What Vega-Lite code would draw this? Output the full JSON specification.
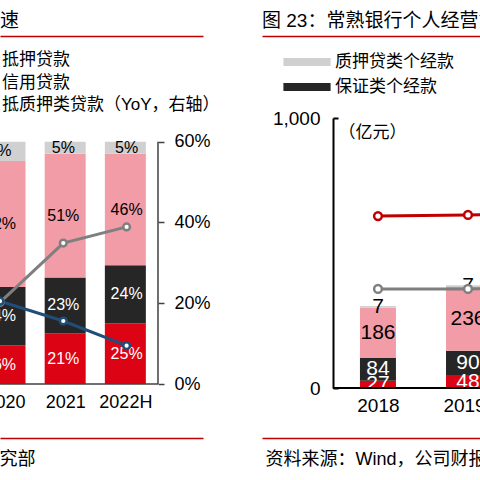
{
  "$schema": "https://vega.github.io/schema/vega-lite/v6.json",
  "autosize": {"type": "none"},
  "padding": {"left": 0, "top": 118, "right": 480, "bottom": 362},
  "bounds": "flush",
  "spacing": 59,
  "resolve": {"scale": {"color": "independent"}, "legend": {"color": "independent"}},
  "datasets": {
    "shareBars": [
      {"year": 2020, "series": "信用贷款", "k": 1, "share": 0.16},
      {"year": 2020, "series": "保证贷款", "k": 2, "share": 0.24},
      {"year": 2020, "series": "抵押贷款", "k": 3, "share": 0.52},
      {"year": 2020, "series": "质押贷款", "k": 4, "share": 0.08},
      {"year": 2021, "series": "信用贷款", "k": 1, "share": 0.21},
      {"year": 2021, "series": "保证贷款", "k": 2, "share": 0.23},
      {"year": 2021, "series": "抵押贷款", "k": 3, "share": 0.51},
      {"year": 2021, "series": "质押贷款", "k": 4, "share": 0.05},
      {"year": 2022, "series": "信用贷款", "k": 1, "share": 0.25},
      {"year": 2022, "series": "保证贷款", "k": 2, "share": 0.24},
      {"year": 2022, "series": "抵押贷款", "k": 3, "share": 0.46},
      {"year": 2022, "series": "质押贷款", "k": 4, "share": 0.05}
    ],
    "shareLines": [
      {"year": 2020, "series": "抵质押类贷款（YoY，右轴）", "yoy": 0.202},
      {"year": 2021, "series": "抵质押类贷款（YoY，右轴）", "yoy": 0.349},
      {"year": 2022, "series": "抵质押类贷款（YoY，右轴）", "yoy": 0.389},
      {"year": 2020, "series": "信用保证类贷款（YoY，右轴）", "yoy": 0.205},
      {"year": 2021, "series": "信用保证类贷款（YoY，右轴）", "yoy": 0.156},
      {"year": 2022, "series": "信用保证类贷款（YoY，右轴）", "yoy": 0.095}
    ],
    "loanBars": [
      {"year": 2018, "series": "信用类个经款", "k": 1, "amt": 27},
      {"year": 2018, "series": "保证类个经款", "k": 2, "amt": 84},
      {"year": 2018, "series": "抵押类个经款", "k": 3, "amt": 186},
      {"year": 2018, "series": "质押贷类个经款", "k": 4, "amt": 7},
      {"year": 2019, "series": "信用类个经款", "k": 1, "amt": 48},
      {"year": 2019, "series": "保证类个经款", "k": 2, "amt": 90},
      {"year": 2019, "series": "抵押类个经款", "k": 3, "amt": 236},
      {"year": 2019, "series": "质押贷类个经款", "k": 4, "amt": 7}
    ],
    "loanLines": [
      {"year": 2018, "series": "个经款增速（右轴）", "v": 0.637},
      {"year": 2019, "series": "个经款增速（右轴）", "v": 0.641},
      {"year": 2020, "series": "个经款增速（右轴）", "v": 0.645},
      {"year": 2018, "series": "个经款占比（右轴）", "v": 0.367},
      {"year": 2019, "series": "个经款占比（右轴）", "v": 0.367},
      {"year": 2020, "series": "个经款占比（右轴）", "v": 0.37}
    ]
  },
  "hconcat": [
    {
      "width": 203,
      "height": 266,
      "title": {"text": "速", "fontSize": 19, "offset": 5},
      "layer": [
        {
          "data": {"name": "shareBars"},
          "mark": {"type": "bar", "size": 41, "clip": true},
          "encoding": {
            "x": {
              "field": "year", "type": "quantitative",
              "scale": {"domain": [2020, 2023.207]},
              "axis": {"orient": "bottom", "values": [2020, 2021, 2022], "format": "d",
                "labelExpr": "datum.value == 2022 ? '2022H' : datum.label",
                "labelFontSize": 18, "labelPadding": 9, "domain": false, "ticks": false,
                "labelFlush": false, "labelOverlap": false, "title": null}
            },
            "y": {"field": "share", "type": "quantitative", "stack": "zero", "scale": {"domain": [0, 1.098]}, "axis": null},
            "color": {
              "field": "series", "type": "nominal",
              "scale": {
                "domain": ["信用贷款", "保证贷款", "抵押贷款", "质押贷款", "抵质押类贷款（YoY，右轴）", "信用保证类贷款（YoY，右轴）"],
                "range": ["#dc0414", "#262626", "#f19ca7", "#d0d0d0", "#7f7f7f", "#1f4e79"]
              },
              "legend": {
                "values": ["抵押贷款", "信用贷款", "抵质押类贷款（YoY，右轴）"],
                "orient": "none", "legendX": -19, "legendY": -66.5, "title": null,
                "symbolType": "square", "symbolSize": 100, "labelFontSize": 17,
                "labelOffset": 4, "rowPadding": 4.5, "padding": 0, "labelLimit": 400
              }
            },
            "order": {"field": "k", "type": "quantitative"}
          }
        },
        {
          "data": {"name": "shareBars"},
          "mark": {"type": "text", "clip": true, "fontSize": 16},
          "encoding": {
            "x": {"field": "year", "type": "quantitative", "scale": {"domain": [2020, 2023.207]}, "axis": null},
            "y": {"field": "share", "type": "quantitative", "stack": "zero", "bandPosition": 0.5, "scale": {"domain": [0, 1.098]}, "axis": null},
            "detail": {"field": "series", "type": "nominal"},
            "order": {"field": "k", "type": "quantitative"},
            "text": {"field": "share", "type": "quantitative", "format": ".0%"},
            "color": {"condition": {"test": "datum.k <= 2", "value": "white"}, "value": "black"}
          }
        },
        {
          "data": {"values": [{"a": 1}]},
          "mark": {"type": "rule", "color": "#404040", "strokeWidth": 1.5},
          "encoding": {
            "x": {"datum": 2019, "type": "quantitative", "scale": {"domain": [2020, 2023.207]}, "axis": null},
            "x2": {"datum": 2022.496},
            "y": {"datum": 0, "type": "quantitative", "scale": {"domain": [0, 1.098]}, "axis": null}
          }
        },
        {
          "data": {"name": "shareLines"},
          "mark": {"type": "line", "strokeWidth": 3, "clip": true},
          "encoding": {
            "x": {
              "field": "year", "type": "quantitative",
              "scale": {"domain": [2020, 2023.207]},
              "axis": {"orient": "top", "offset": 82, "domainColor": "#c00000", "domainWidth": 1.5,
                "ticks": false, "labels": false, "title": null}
            },
            "y": {
              "field": "yoy", "type": "quantitative",
              "scale": {"domain": [0, 0.6587]},
              "axis": {"orient": "right", "offset": -45, "values": [0, 0.2, 0.4, 0.6], "format": ".0%",
                "title": null, "domain": false, "tickSize": 6, "tickColor": "#404040", "tickWidth": 1.5,
                "labelFontSize": 18, "labelPadding": 10}
            },
            "color": {"field": "series", "type": "nominal"}
          }
        },
        {
          "data": {"name": "shareLines"},
          "mark": {"type": "point", "filled": false, "fill": "white", "strokeWidth": 2.5, "size": 45, "opacity": 1, "clip": true},
          "encoding": {
            "x": {"field": "year", "type": "quantitative", "scale": {"domain": [2020, 2023.207]}, "axis": null},
            "y": {"field": "yoy", "type": "quantitative", "scale": {"domain": [0, 0.6587]}, "axis": null},
            "color": {"field": "series", "type": "nominal"}
          }
        },
        {
          "data": {"values": [{"a": 1}]},
          "mark": {"type": "rule", "color": "#404040", "strokeWidth": 1.5},
          "encoding": {
            "x": {"datum": 2022.496, "type": "quantitative", "scale": {"domain": [2020, 2023.207]}, "axis": null},
            "y": {"datum": 0, "type": "quantitative", "scale": {"domain": [0, 0.6587]}, "axis": null},
            "y2": {"datum": 0.6}
          }
        },
        {
          "data": {"values": [{"a": 1}]},
          "mark": {"type": "rule", "opacity": 0},
          "encoding": {
            "x": {
              "datum": 2021, "type": "quantitative",
              "scale": {"domain": [2020, 2023.207]},
              "axis": {"orient": "bottom", "offset": 54, "domainColor": "#c00000", "domainWidth": 1.5,
                "ticks": false, "labels": false, "title": "研究部", "titleAnchor": "start",
                "titleAlign": "right", "titleX": 35, "titleFontSize": 18, "titlePadding": 12}
            }
          }
        }
      ],
      "resolve": {"scale": {"x": "independent", "y": "independent"}}
    },
    {
      "width": 230,
      "height": 270,
      "title": {"text": "图 23：常熟银行个人经营贷款结构", "fontSize": 19, "offset": 5},
      "layer": [
        {
          "data": {"name": "loanBars"},
          "mark": {"type": "bar", "size": 36, "clip": true},
          "encoding": {
            "x": {
              "field": "year", "type": "quantitative",
              "scale": {"domain": [2016.711, 2019.267]},
              "axis": {"orient": "bottom", "values": [2018, 2019], "format": "d",
                "labelFontSize": 19, "labelPadding": 8, "domain": false, "ticks": false,
                "labelFlush": false, "labelOverlap": false, "title": null}
            },
            "y": {
              "field": "amt", "type": "quantitative", "stack": "zero",
              "scale": {"domain": [0, 1000]},
              "axis": {"orient": "left", "offset": -71, "values": [0, 1000], "format": ",.0f",
                "domainColor": "#000", "domainWidth": 2, "tickSize": -5, "tickColor": "#000", "tickWidth": 2,
                "labelFontSize": 19, "labelPadding": 18,
                "title": "（亿元）", "titleAngle": 0, "titleAlign": "left", "titleBaseline": "middle",
                "titleX": 5, "titleY": 14, "titleFontSize": 17}
            },
            "color": {
              "field": "series", "type": "nominal",
              "scale": {
                "domain": ["信用类个经款", "保证类个经款", "抵押类个经款", "质押贷类个经款", "个经款增速（右轴）", "个经款占比（右轴）"],
                "range": ["#dc0414", "#262626", "#f19ca7", "#d0d0d0", "#c00000", "#7f7f7f"]
              },
              "legend": {
                "values": ["质押贷类个经款", "保证类个经款"],
                "orient": "none", "legendX": 36.5, "legendY": -64.5, "title": null,
                "symbolType": "M-5.9,-1L5.9,-1L5.9,1L-5.9,1Z", "symbolSize": 64, "symbolStrokeWidth": 0,
                "labelFontSize": 17, "labelOffset": 19.5, "rowPadding": 7, "padding": 0, "labelLimit": 400
              }
            },
            "order": {"field": "k", "type": "quantitative"}
          }
        },
        {
          "data": {"name": "loanBars"},
          "mark": {"type": "text", "clip": true, "fontSize": 21},
          "encoding": {
            "x": {"field": "year", "type": "quantitative", "scale": {"domain": [2016.711, 2019.267]}, "axis": null},
            "y": {"field": "amt", "type": "quantitative", "stack": "zero", "bandPosition": 0.5, "scale": {"domain": [0, 1000]}, "axis": null},
            "detail": {"field": "series", "type": "nominal"},
            "order": {"field": "k", "type": "quantitative"},
            "text": {"field": "amt", "type": "quantitative"},
            "color": {"condition": {"test": "datum.k <= 2", "value": "white"}, "value": "black"}
          }
        },
        {
          "data": {"values": [{"a": 1}]},
          "mark": {"type": "rule", "color": "#000", "strokeWidth": 2},
          "encoding": {
            "x": {"datum": 2017.5, "type": "quantitative", "scale": {"domain": [2016.711, 2019.267]}, "axis": null},
            "x2": {"datum": 2020},
            "y": {"datum": 0, "type": "quantitative", "scale": {"domain": [0, 1000]}, "axis": null}
          }
        },
        {
          "data": {"name": "loanLines"},
          "mark": {"type": "line", "strokeWidth": 3, "clip": true},
          "encoding": {
            "x": {
              "field": "year", "type": "quantitative",
              "scale": {"domain": [2016.711, 2019.267]},
              "axis": {"orient": "top", "offset": 82, "domainColor": "#c00000", "domainWidth": 1.5,
                "ticks": false, "labels": false, "title": null}
            },
            "y": {"field": "v", "type": "quantitative", "scale": {"domain": [0, 1]}, "axis": null},
            "color": {"field": "series", "type": "nominal"}
          }
        },
        {
          "data": {"name": "loanLines"},
          "mark": {"type": "point", "filled": false, "fill": "white", "strokeWidth": 2.5, "size": 60, "opacity": 1, "clip": true},
          "encoding": {
            "x": {"field": "year", "type": "quantitative", "scale": {"domain": [2016.711, 2019.267]}, "axis": null},
            "y": {"field": "v", "type": "quantitative", "scale": {"domain": [0, 1]}, "axis": null},
            "color": {"field": "series", "type": "nominal"}
          }
        },
        {
          "data": {"values": [{"a": 1}]},
          "mark": {"type": "rule", "opacity": 0},
          "encoding": {
            "x": {
              "datum": 2018, "type": "quantitative",
              "scale": {"domain": [2016.711, 2019.267]},
              "axis": {"orient": "bottom", "offset": 50, "domainColor": "#c00000", "domainWidth": 1.5,
                "ticks": false, "labels": false, "title": "资料来源：Wind，公司财报，研究部", "titleAnchor": "start",
                "titleAlign": "left", "titleX": 3, "titleFontSize": 18, "titlePadding": 12}
            }
          }
        }
      ],
      "resolve": {"scale": {"x": "independent", "y": "independent"}}
    }
  ],
  "config": {
    "font": "Liberation Sans, Noto Sans CJK SC",
    "view": {"stroke": null},
    "axis": {"grid": false, "labelColor": "#000", "titleColor": "#000", "titleFontWeight": "normal"},
    "legend": {"labelColor": "#000"},
    "title": {"anchor": "start", "frame": "group", "fontWeight": "normal", "color": "#000"}
  }
}
